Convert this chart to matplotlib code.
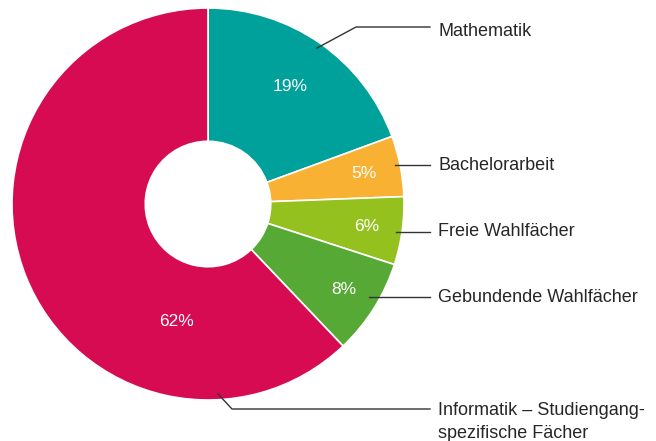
import numpy as np
import matplotlib
matplotlib.use("Agg")
import matplotlib.pyplot as plt

# --- data ---
labels = ["Mathematik", "Bachelorarbeit", "Freie Wahlfächer",
          "Gebundende Wahlfächer", "Informatik – Studiengang-\nspezifische Fächer"]
shares = [19.4, 5.0, 5.6, 7.9, 62.1]   # angles
pct_labels = ["19%", "5%", "6%", "8%", "62%"]
colors = ["#00A19A", "#F8B133", "#95C11F", "#57A935", "#D60B51"]

plt.rcParams['font.family'] = ['Liberation Sans', 'DejaVu Sans']

W, H = 656, 441
fig = plt.figure(figsize=(W / 100, H / 100), dpi=100)
ax = fig.add_axes([0, 0, 1, 1])

cx, cy, R = 208, H - 204, 196
wedges, _ = ax.pie(
    shares, colors=colors, startangle=90, counterclock=False,
    center=(cx, cy), radius=R,
    wedgeprops=dict(width=R * 0.68, edgecolor="white", linewidth=1.2),
)
ax.set_xlim(0, W)
ax.set_ylim(0, H)
ax.set_aspect("equal")
ax.axis("off")

# percentages inside the ring
pct_r = [0.73, 0.81, 0.82, 0.82, 0.0]
for i, (w, p) in enumerate(zip(wedges, pct_labels)):
    ang = np.deg2rad((w.theta1 + w.theta2) / 2)
    x, y = cx + R * pct_r[i] * np.cos(ang), cy + R * pct_r[i] * np.sin(ang)
    if i == 4:
        # big slice: label sits lower-left of the hole
        x, y = cx - 31, cy - 118
    ax.text(x, y, p, color="white", fontsize=12.5, ha="center", va="center")

# leader lines + labels
text_x, line_end = 438, 430
line_y = [27, 165, 232, 297, 409]
text_dy = [-4, 0, 0, 0, 7]
for i, (w, lab) in enumerate(zip(wedges, labels)):
    ang = np.deg2rad((w.theta1 + w.theta2) / 2)
    if i == 4:
        ang = np.deg2rad(-87)
    r0 = R * 0.97
    x0, y0 = cx + r0 * np.cos(ang), cy + r0 * np.sin(ang)
    ty = H - line_y[i]
    if i == 0:
        pts = [(x0, y0), (356, ty), (line_end, ty)]
    elif i == 4:
        pts = [(x0, y0), (232, ty), (line_end, ty)]
    else:
        pts = [(x0, ty), (line_end, ty)]
    xs, ys = zip(*pts)
    ax.plot(xs, ys, color="#333333", lw=1)
    va = "top" if i == 4 else "center"
    ax.text(text_x, ty + text_dy[i], lab, fontsize=13,
            color="#262626", va=va, ha="left", linespacing=1.45)

fig.savefig("out.png", dpi=100)
